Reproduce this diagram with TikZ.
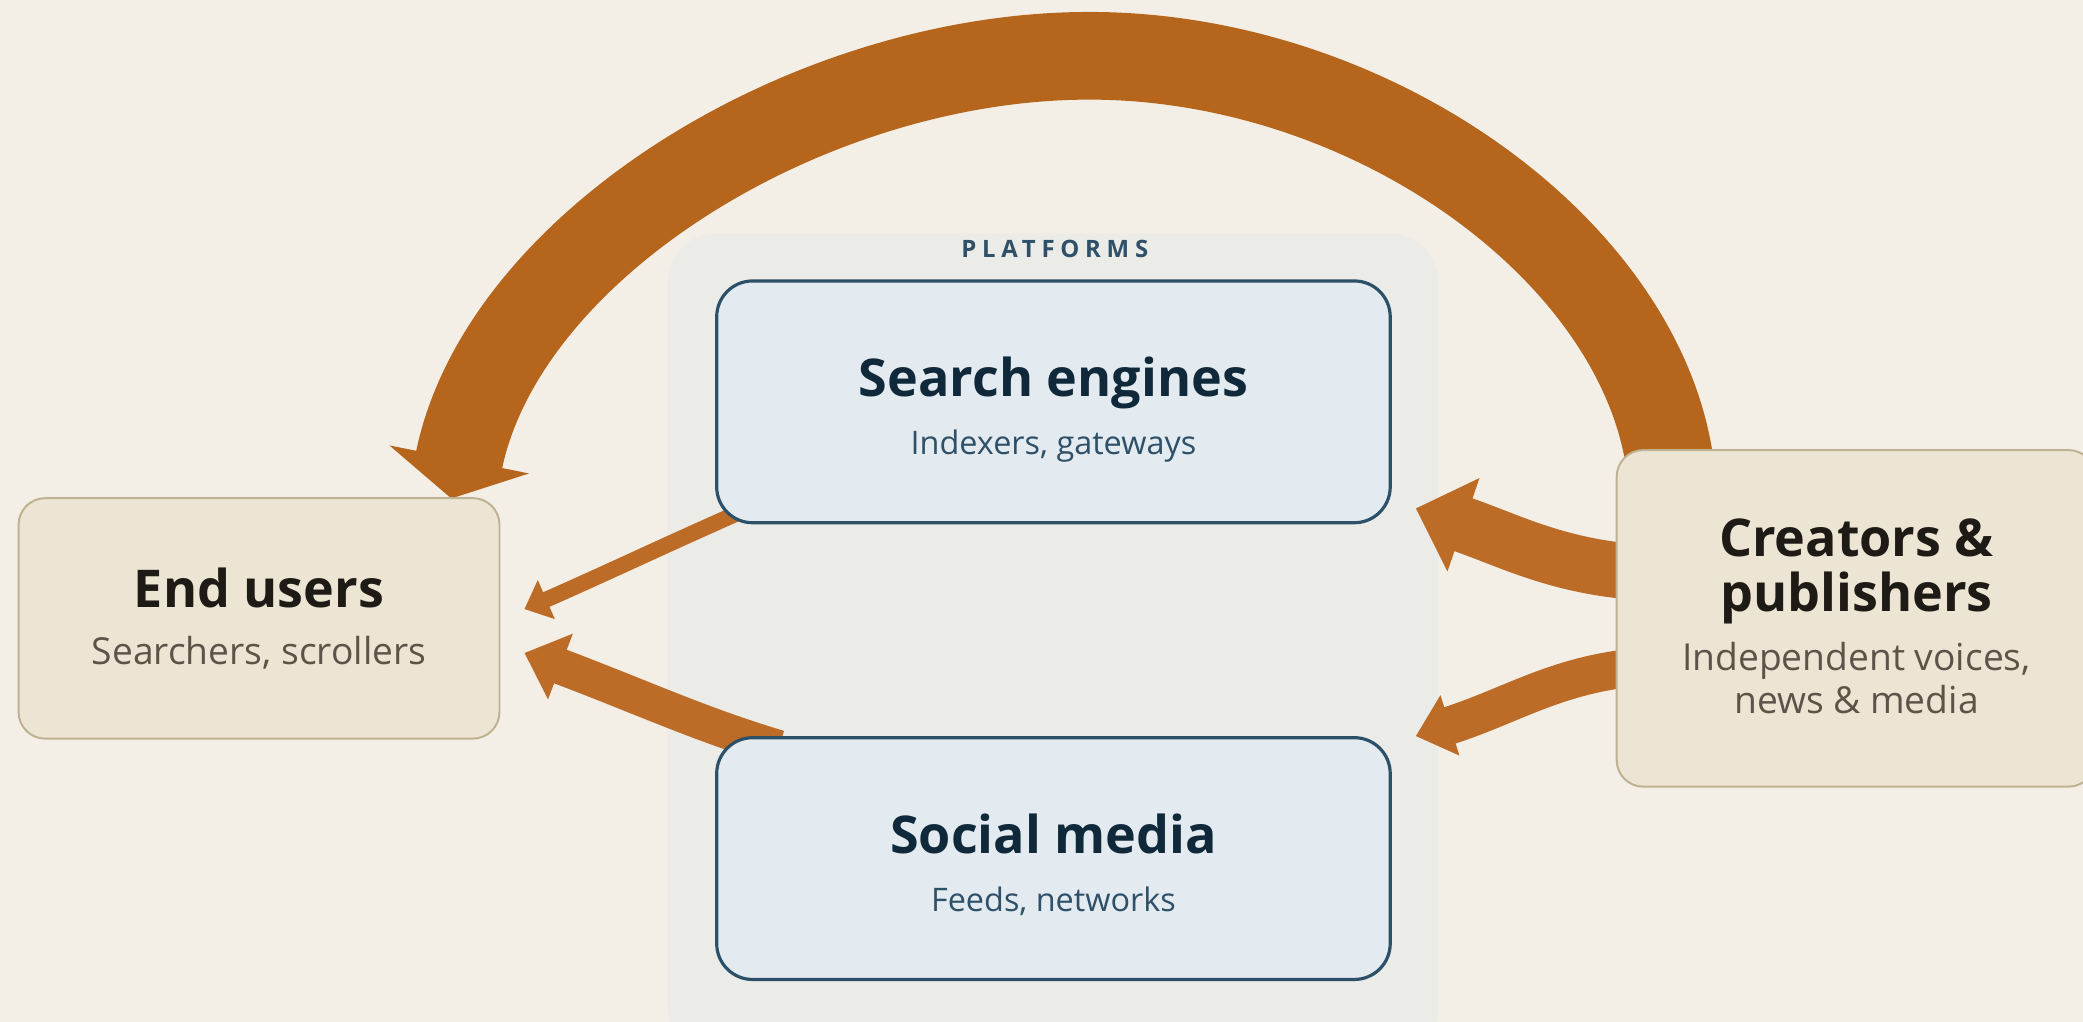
\documentclass[tikz,border=0pt]{standalone}
\usepackage{fontspec}
\setmainfont{Open Sans}
\usetikzlibrary{arrows.meta,positioning}

\definecolor{paper}{HTML}{F3EFE7}
\definecolor{tanfill}{HTML}{EDE5D4}
\definecolor{tanline}{HTML}{BFB293}
\definecolor{groupfill}{HTML}{EBECE8}
\definecolor{platfill}{HTML}{E3EBF1}
\definecolor{platline}{HTML}{2C5068}
\definecolor{inkdark}{HTML}{1E1A15}
\definecolor{inknavy}{HTML}{10293A}
\definecolor{inkgrey}{HTML}{5C5448}
\definecolor{inkblue}{HTML}{2E5068}
\definecolor{flowbig}{HTML}{B6651C}
\definecolor{flowsmall}{HTML}{BD6C28}

\pgfdeclarelayer{backdrop}
\pgfdeclarelayer{groupbg}
\pgfdeclarelayer{flows}
\pgfsetlayers{backdrop,groupbg,flows,main}

\begin{document}
\begin{tikzpicture}[x=0.5pt,y=-0.5pt,
    userbox/.style={draw=tanline,fill=tanfill,line width=0.75pt,rounded corners=10pt,minimum width=181pt},
    platbox/.style={draw=platline,fill=platfill,line width=1.2pt,rounded corners=13.5pt,minimum width=253.5pt,minimum height=91pt},
    groupbox/.style={fill=groupfill,rounded corners=18pt,minimum width=290pt,minimum height=310pt},
    boxtitle/.style={inner sep=0pt,font=\fontsize{19.6}{22}\selectfont\bfseries},
    usersub/.style={inner sep=0pt,text=inkgrey,font=\fontsize{14}{16}\selectfont},
    platsub/.style={inner sep=0pt,text=inkblue,font=\fontsize{12.2}{14}\selectfont},
    flow/.style={draw=flowsmall}]
    \begin{pgfonlayer}{backdrop}
        \fill[paper] (0,0) rectangle (1568,769);
    \end{pgfonlayer}
    \useasboundingbox (0,0) rectangle (1568,769);

    % the two sides
    \node[userbox,minimum height=90.5pt] (endusers) at (195,465.5) {};
    \node[boxtitle,text=inkdark,anchor=base] (endusers-title) at (195,457) {End users};
    \node[usersub,anchor=base] (endusers-sub) at (195,500.5) {Searchers, scrollers};

    \node[userbox,minimum width=180pt,minimum height=126.7pt] (creators) at (1397,465.5) {};
    \node[boxtitle,text=inkdark,anchor=base] (creators-title) at (1397.5,419) {Creators \&};
    \node[boxtitle,text=inkdark,anchor=base] (creators-title2) at (1397.5,460.5) {publishers};
    \node[usersub,anchor=base] (creators-sub) at (1397.5,504.5) {Independent voices,};
    \node[usersub,anchor=base] (creators-sub2) at (1397.5,537) {news \& media};

    % platforms
    \begin{pgfonlayer}{groupbg}
        \node[groupbox,anchor=north] (platforms) at (792.6,175.5) {};
    \end{pgfonlayer}
    \node[inner sep=0pt,text=inkblue,anchor=base,font=\fontsize{9}{10}\selectfont\bfseries\addfontfeatures{LetterSpace=24}] (platforms-label) at (794,193.7) {PLATFORMS};

    \node[platbox] (search) at (793,302.5) {};
    \node[boxtitle,text=inknavy,anchor=base] (search-title) at (793,298.6) {Search engines};
    \node[platsub,anchor=base] (search-sub) at (793,342.5) {Indexers, gateways};

    \node[platbox] (social) at (793,646.3) {};
    \node[boxtitle,text=inknavy,anchor=base] (social-title) at (793,642.4) {Social media};
    \node[platsub,anchor=base] (social-sub) at (793,686.3) {Feeds, networks};

    % flows
    \begin{pgfonlayer}{flows}
        \coordinate (arctop) at (820,42);
        \draw[flowbig,line width=33pt,-{Triangle[length=15pt,width=53pt]}]
            ([xshift=20pt,yshift=-3pt]creators.north west) .. controls (1230,185) and (1030,42) .. (arctop)
            .. controls (608,42) and (378,185) .. ([xshift=-18.5pt,yshift=-0.5pt]endusers.north east);
        \draw[flow,line width=6pt,-{Triangle[length=9pt,width=15.5pt]}]
            ([xshift=8pt,yshift=4pt]search.south west) .. controls +(-50,22) and +(55,-24) .. ([xshift=9pt,yshift=3.5pt]endusers.east);
        \draw[flow,line width=13.5pt,-{Triangle[length=14.5pt,width=25.5pt]}]
            ([xshift=24pt,yshift=-4.5pt]social.north west) .. controls +(-60,-18) and +(90,34) .. ([xshift=9pt,yshift=-13pt]endusers.east);
        \draw[flow,line width=21pt,-{Triangle[length=19pt,width=36pt]}]
            ([xshift=7pt,yshift=17.5pt]creators.west) .. controls +(-60,-5) and +(70,24) .. ([xshift=9pt,yshift=6pt]search.south east);
        \draw[flow,line width=14.3pt,-{Triangle[length=13.5pt,width=23pt]}]
            ([xshift=7pt,yshift=-18.5pt]creators.west) .. controls +(-60,6) and +(70,-22) .. ([xshift=9pt]social.north east);
    \end{pgfonlayer}
\end{tikzpicture}
\end{document}
